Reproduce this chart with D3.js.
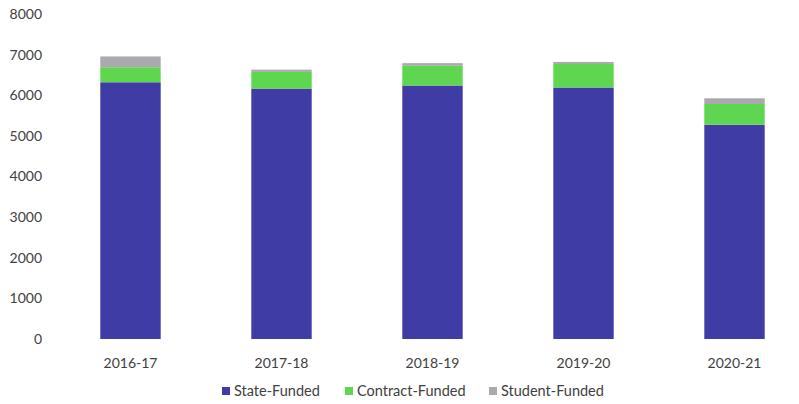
<!DOCTYPE html>
<html>
<head>
<meta charset="utf-8">
<script src="https://cdn.jsdelivr.net/npm/d3@7"></script>
<style>
  html, body { margin: 0; padding: 0; background: #ffffff; }
  svg { display: block; }
  text { font-family: Lato, "Open Sans", sans-serif; fill: #404040; }
</style>
</head>
<body>
<svg id="chart" width="799" height="404"></svg>
<script>
const categories = ["2016-17", "2017-18", "2018-19", "2019-20", "2020-21"];
const stateFunded = [6320, 6165, 6240, 6190, 5275];
const contractFunded = [370, 410, 485, 580, 510];
const studentFunded = [265, 55, 65, 50, 140];
const seriesNames = ["State-Funded", "Contract-Funded", "Student-Funded"];
const seriesColors = ["#3f3ca6", "#5fd64f", "#a9a9ae"];
const yTicks = [0, 1000, 2000, 3000, 4000, 5000, 6000, 7000, 8000];

const svg = d3.select("#chart");
const rows = categories.map((c, i) => ({
  cat: c,
  "State-Funded": stateFunded[i],
  "Contract-Funded": contractFunded[i],
  "Student-Funded": studentFunded[i]
}));
const stack = d3.stack().keys(seriesNames)(rows);

const x = d3.scaleBand().domain(categories).range([55, 810]).paddingInner(0.6).paddingOuter(0.3);
const y = d3.scaleLinear().domain([0, 8000]).range([339, 14]);
const color = d3.scaleOrdinal().domain(seriesNames).range(seriesColors);

// y axis
const yAxis = d3.axisLeft(y).tickValues(yTicks).tickSize(0).tickPadding(0).tickFormat(d3.format("d"));
const gy = svg.append("g").attr("transform", "translate(42,0)").call(yAxis);
gy.select(".domain").remove();
gy.selectAll("text").style("font-size", "14px").style("fill", "#404040").attr("font-family", "Lato, sans-serif");

// bars
svg.append("g").selectAll("g").data(stack).join("g")
  .attr("fill", d => color(d.key))
  .selectAll("rect").data(d => d).join("rect")
  .attr("x", d => x(d.data.cat))
  .attr("width", x.bandwidth())
  .attr("y", d => y(d[1]))
  .attr("height", d => y(d[0]) - y(d[1]));

// x axis
const xAxis = d3.axisBottom(x).tickSize(0).tickPadding(0);
const gx = svg.append("g").attr("transform", "translate(0,358)").call(xAxis);
gx.select(".domain").remove();
gx.selectAll("text").style("font-size", "14px").style("fill", "#404040").attr("font-family", "Lato, sans-serif");

// legend
const legendX = [222, 345, 489];
const lg = svg.append("g");
seriesNames.forEach((s, i) => {
  lg.append("rect").attr("x", legendX[i]).attr("y", 387).attr("width", 8).attr("height", 8).attr("fill", seriesColors[i]);
  lg.append("text").attr("x", legendX[i] + 12).attr("y", 396).style("font-size", "14.5px").text(s);
});
</script>
</body>
</html>
